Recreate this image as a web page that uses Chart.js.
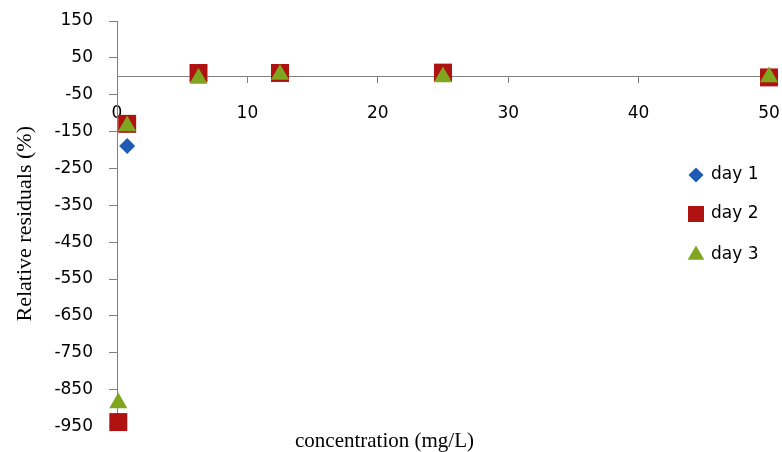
<!DOCTYPE html>
<html><head><meta charset="utf-8">
<script src="https://cdn.jsdelivr.net/npm/chart.js@4/dist/chart.umd.min.js"></script>
<style>html,body{margin:0;padding:0;background:#fff}#wrap{width:782px;height:452px}</style>
</head><body>
<div id="wrap"><canvas id="c" width="782" height="452"></canvas></div>
<script>
const concentrations = [0.1, 0.78, 6.25, 12.5, 25, 50];
const day1 = [-935, -189, 5, 10, 5, 0];
const day2 = [-938, -129, 9, 9, 10, -3];
const day3 = [-886, -135, -6, 5, -2, -2];
const seriesNames = ['day 1', 'day 2', 'day 3'];
const xTicks = [0, 10, 20, 30, 40, 50];
const yTicks = [150, 50, -50, -150, -250, -350, -450, -550, -650, -750, -850, -950];
const xTitle = 'concentration (mg/L)';
const yTitle = 'Relative residuals (%)';

const colors = ['#1E5BB5', '#B01212', '#7FA61E'];
const styles = ['rectRot', 'rect', 'triangle'];
const radii = [8, 12.7, 10.5];
const legendRadii = [7.5, 11.3, 9.6];

function pts(vals) { return concentrations.map((c, i) => ({x: c, y: vals[i]})); }
const allSeries = [day1, day2, day3];

function zeroPad(s) { s.paddingLeft = 0; s.paddingRight = 0; s.paddingTop = 0; s.paddingBottom = 0; }

const legendPlugin = {
  id: 'sideLegend',
  afterDraw(chart) {
    const ctx = chart.ctx;
    const ca = chart.chartArea;
    const mx = ca.right - 73, tx = ca.right - 58;
    const ys = [175, 214, 255];
    ctx.save();
    seriesNames.forEach((name, i) => {
      ctx.fillStyle = colors[i];
      ctx.strokeStyle = colors[i];
      Chart.helpers.drawPoint(ctx, {pointStyle: styles[i], radius: legendRadii[i], rotation: 0, borderWidth: 0}, mx, ys[i]);
      ctx.fillStyle = '#000';
      ctx.font = '17px "DejaVu Sans"';
      ctx.textBaseline = 'middle';
      ctx.textAlign = 'left';
      ctx.fillText(name, tx, ys[i]);
    });
    ctx.restore();
  }
};

new Chart(document.getElementById('c'), {
  type: 'scatter',
  data: {
    datasets: allSeries.map((vals, i) => ({
      label: seriesNames[i],
      data: pts(vals),
      order: 3 - i,
      pointStyle: styles[i],
      pointRadius: radii[i],
      pointHoverRadius: radii[i],
      backgroundColor: colors[i],
      borderColor: colors[i],
      pointBorderWidth: 0,
      clip: false
    }))
  },
  options: {
    responsive: false,
    animation: false,
    events: [],
    layout: {padding: {left: 0, right: 13, top: 21, bottom: 0}},
    plugins: {
      legend: {display: false},
      tooltip: {enabled: false},
      title: {
        display: true,
        position: 'bottom',
        text: xTitle,
        color: '#000',
        font: {family: '"Liberation Serif"', size: 21, weight: 'normal', lineHeight: 1},
        padding: {top: 4.5, bottom: 0}
      }
    },
    scales: {
      x: {
        type: 'linear',
        position: {y: 0},
        min: 0, max: 50,
        afterBuildTicks: s => { s.ticks = xTicks.map(v => ({value: v})); },
        afterFit: zeroPad,
        grid: {drawOnChartArea: false, drawTicks: true, tickLength: 6, color: '#808080'},
        border: {display: true, color: '#808080', width: 1},
        ticks: {padding: 21, color: '#000', font: {family: '"DejaVu Sans"', size: 17}, maxRotation: 0}
      },
      y: {
        type: 'linear',
        position: 'left',
        min: -950, max: 150,
        afterBuildTicks: s => { s.ticks = yTicks.slice().reverse().map(v => ({value: v})); },
        afterFit: s => { s.width = 117; zeroPad(s); },
        grid: {drawOnChartArea: false, drawTicks: true, tickLength: 8, color: '#808080'},
        border: {display: true, color: '#808080', width: 1},
        ticks: {padding: 16, color: '#000', font: {family: '"DejaVu Sans"', size: 17}},
        title: {
          display: true, text: yTitle, color: '#000',
          font: {family: '"Liberation Serif"', size: 22, lineHeight: 1},
          padding: {top: 14, bottom: 0}
        }
      }
    }
  },
  plugins: [legendPlugin]
});
</script>
</body></html>
